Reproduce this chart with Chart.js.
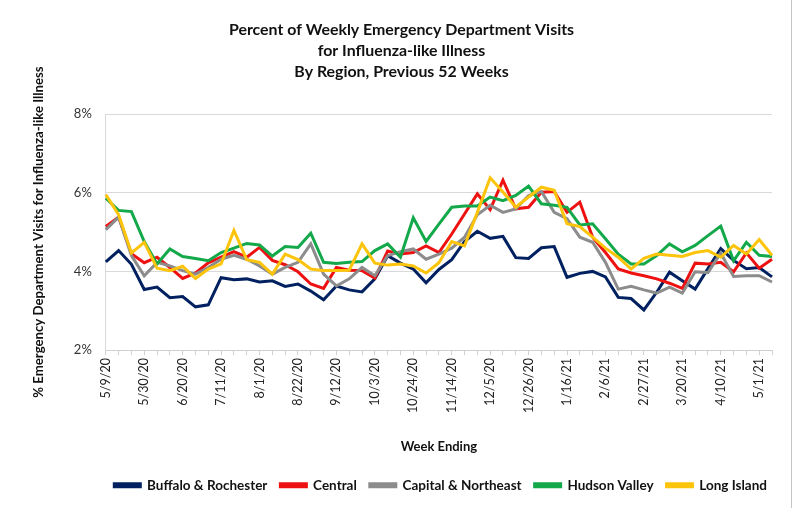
<!DOCTYPE html>
<html>
<head>
<meta charset="utf-8">
<script src="https://cdn.jsdelivr.net/npm/chart.js@4/dist/chart.umd.min.js"></script>
<style>
    html, body { margin: 0; padding: 0; background: #fff; }
    #wrap { position: relative; width: 798px; height: 508px; }
    #edge { position: absolute; left: 791px; top: 0; width: 1px; height: 508px; background: #c6c6c6; }
</style>
</head>
<body>
<div id="wrap">
    <canvas id="iliChart" width="798" height="508"></canvas>
    <div id="edge"></div>
</div>
<script>
var weeks = ['5/9/20', '5/16/20', '5/23/20', '5/30/20', '6/6/20', '6/13/20', '6/20/20', '6/27/20', '7/4/20', '7/11/20',
    '7/18/20', '7/25/20', '8/1/20', '8/8/20', '8/15/20', '8/22/20', '8/29/20', '9/5/20', '9/12/20', '9/19/20',
    '9/26/20', '10/3/20', '10/10/20', '10/17/20', '10/24/20', '10/31/20', '11/7/20', '11/14/20', '11/21/20', '11/28/20',
    '12/5/20', '12/12/20', '12/19/20', '12/26/20', '1/2/21', '1/9/21', '1/16/21', '1/23/21', '1/30/21', '2/6/21',
    '2/13/21', '2/20/21', '2/27/21', '3/6/21', '3/13/21', '3/20/21', '3/27/21', '4/3/21', '4/10/21', '4/17/21',
    '4/24/21', '5/1/21', '5/8/21'];

var buffaloRochester = [4.24, 4.53, 4.18, 3.54, 3.60, 3.33, 3.36, 3.10, 3.15, 3.84,
    3.79, 3.81, 3.73, 3.76, 3.62, 3.68, 3.50, 3.28, 3.63, 3.53,
    3.48, 3.81, 4.40, 4.21, 4.06, 3.71, 4.05, 4.30, 4.76, 5.02,
    4.84, 4.89, 4.35, 4.33, 4.60, 4.63, 3.85, 3.95, 4.00, 3.86,
    3.34, 3.31, 3.02, 3.47, 3.98, 3.76, 3.55, 4.07, 4.58, 4.28,
    4.07, 4.10, 3.86];
var central = [5.14, 5.38, 4.45, 4.22, 4.36, 4.10, 3.82, 3.96, 4.22, 4.36,
    4.50, 4.36, 4.61, 4.28, 4.17, 3.99, 3.68, 3.57, 4.10, 4.03,
    4.02, 3.83, 4.52, 4.44, 4.48, 4.65, 4.48, 4.95, 5.46, 5.97,
    5.57, 6.32, 5.59, 5.63, 6.01, 6.03, 5.50, 5.76, 4.87, 4.48,
    4.06, 3.96, 3.89, 3.81, 3.70, 3.57, 4.21, 4.19, 4.23, 3.99,
    4.47, 4.08, 4.31];
var capitalNortheast = [5.06, 5.38, 4.40, 3.89, 4.23, 4.14, 4.02, 3.93, 4.10, 4.31,
    4.41, 4.31, 4.14, 3.93, 4.10, 4.23, 4.70, 3.93, 3.63, 3.81,
    4.10, 3.89, 4.40, 4.50, 4.57, 4.31, 4.44, 4.59, 4.87, 5.44,
    5.68, 5.50, 5.59, 5.93, 6.03, 5.50, 5.34, 4.87, 4.74, 4.23,
    3.55, 3.62, 3.53, 3.45, 3.60, 3.45, 3.99, 3.97, 4.47, 3.87,
    3.89, 3.89, 3.73];
var hudsonValley = [5.86, 5.55, 5.52, 4.76, 4.19, 4.57, 4.38, 4.33, 4.27, 4.48,
    4.59, 4.71, 4.67, 4.39, 4.63, 4.61, 4.97, 4.23, 4.20, 4.23,
    4.25, 4.53, 4.70, 4.36, 5.36, 4.76, 5.20, 5.63, 5.66, 5.66,
    5.89, 5.80, 5.93, 6.17, 5.72, 5.68, 5.63, 5.18, 5.21, 4.83,
    4.44, 4.19, 4.19, 4.40, 4.70, 4.50, 4.66, 4.91, 5.15, 4.27,
    4.74, 4.41, 4.38];
var longIsland = [5.95, 5.44, 4.47, 4.74, 4.08, 4.02, 4.13, 3.82, 4.06, 4.19,
    5.04, 4.30, 4.23, 3.93, 4.44, 4.30, 4.06, 4.02, 4.02, 4.03,
    4.70, 4.21, 4.16, 4.19, 4.14, 3.96, 4.22, 4.76, 4.65, 5.50,
    6.38, 6.02, 5.63, 5.89, 6.14, 6.06, 5.21, 5.14, 4.87, 4.59,
    4.36, 4.06, 4.33, 4.44, 4.41, 4.38, 4.48, 4.53, 4.36, 4.66,
    4.44, 4.81, 4.41];

var yTicks = [2, 4, 6, 8];

var regions = [
    { label: 'Buffalo & Rochester', data: buffaloRochester, color: '#002060', order: 5 },
    { label: 'Central', data: central, color: '#ee1111', order: 4 },
    { label: 'Capital & Northeast', data: capitalNortheast, color: '#8c8c8c', order: 3 },
    { label: 'Hudson Valley', data: hudsonValley, color: '#13a84a', order: 2 },
    { label: 'Long Island', data: longIsland, color: '#fcc40a', order: 1 }
];

var FONT = 'Lato, "Liberation Sans", sans-serif';

// nudge the legend row a little to the right, like the original
var legendShift = {
    id: 'legendShift',
    afterLayout: function(chart) {
        if (chart.legend) {
            chart.legend.left += 8;
            chart.legend.right += 8;
        }
    }
};

new Chart(document.getElementById('iliChart'), {
    type: 'line',
    data: {
        labels: weeks,
        datasets: regions.map(function(r) {
            return {
                label: r.label,
                data: r.data,
                borderColor: r.color,
                backgroundColor: r.color,
                borderWidth: 3,
                pointRadius: 0,
                tension: 0,
                order: r.order
            };
        })
    },
    plugins: [legendShift],
    options: {
        responsive: false,
        animation: false,
        layout: { padding: { left: 31, right: 26, top: 0, bottom: 6 } },
        plugins: {
            title: {
                display: true,
                text: ['Percent of Weekly Emergency Department Visits', 'for Influenza-like Illness', 'By Region, Previous 52 Weeks'],
                color: '#111',
                font: { family: FONT, size: 15.9, weight: 'bold', lineHeight: 1.3 },
                padding: { top: 20, bottom: 32 }
            },
            legend: {
                position: 'bottom',
                align: 'end',
                labels: {
                    color: '#111',
                    font: { family: FONT, size: 13.5, weight: 'bold' },
                    boxWidth: 26,
                    boxHeight: 3,
                    padding: 13,
                    sort: function(a, b) { return a.datasetIndex - b.datasetIndex; }
                }
            },
            tooltip: { enabled: false }
        },
        scales: {
            x: {
                offset: false,
                grid: { drawOnChartArea: false, color: '#d0d0d0', tickLength: 5 },
                border: { color: '#d0d0d0' },
                ticks: {
                    autoSkip: false,
                    maxRotation: 90,
                    minRotation: 90,
                    color: '#222',
                    font: { family: FONT, size: 12.5 },
                    callback: function(v, i) { return i % 3 === 0 ? weeks[i] : ''; }
                },
                title: {
                    display: true,
                    text: 'Week Ending',
                    color: '#111',
                    font: { family: FONT, size: 13, weight: 'bold' },
                    padding: { top: 23, bottom: 11 }
                }
            },
            y: {
                min: 2,
                max: 8,
                afterBuildTicks: function(axis) {
                    axis.ticks = yTicks.map(function(v) { return { value: v }; });
                },
                grid: { color: '#d9d9d9', drawTicks: false },
                border: { color: '#d9d9d9' },
                ticks: {
                    color: '#333',
                    padding: 14,
                    font: { family: FONT, size: 13 },
                    callback: function(v) { return v + '%'; }
                },
                title: {
                    display: true,
                    text: '% Emergency Department Visits for Influenza-like Illness',
                    color: '#111',
                    font: { family: FONT, size: 13.2, weight: 'bold' },
                    padding: { top: 0, bottom: 13 }
                }
            }
        }
    }
});
</script>
</body>
</html>
